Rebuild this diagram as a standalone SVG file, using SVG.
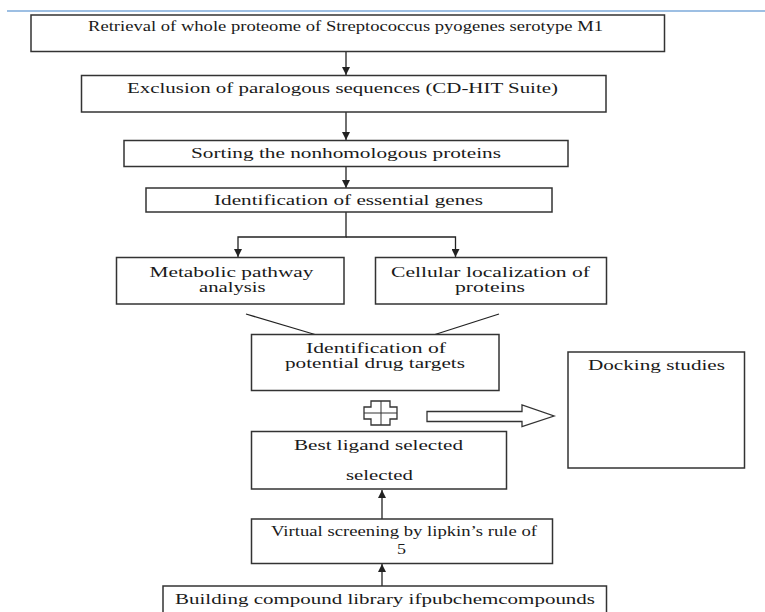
<svg xmlns="http://www.w3.org/2000/svg" width="765" height="612" viewBox="0 0 765 612">
<style>
.box{fill:#fff;stroke:#333;stroke-width:1.5}
.t{font-family:"Liberation Serif","Times New Roman",serif;font-size:15px;fill:#1a1a1a;text-anchor:start}
.c{font-family:"Liberation Serif","Times New Roman",serif;font-size:15px;fill:#1a1a1a}
.ln{stroke:#222;stroke-width:1.3;fill:none}
</style>
<defs>
<marker id="ah" viewBox="0 0 10 10" refX="10" refY="5" markerWidth="8" markerHeight="8" markerUnits="userSpaceOnUse" orient="auto">
<path d="M0,0 L10,5 L0,10 z" fill="#222"/>
</marker>
</defs>
<rect width="765" height="612" fill="#fff"/>
<line x1="7" y1="11" x2="765" y2="11" stroke="#9dbfe3" stroke-width="2"/>

<g id="connectors">
<line class="ln" x1="346" y1="52" x2="346" y2="75" marker-end="url(#ah)"/>
<line class="ln" x1="346" y1="112" x2="346" y2="140" marker-end="url(#ah)"/>
<line class="ln" x1="346" y1="167" x2="346" y2="188" marker-end="url(#ah)"/>
<polyline class="ln" points="346,212 346,237 238,237 238,257" marker-end="url(#ah)"/>
<polyline class="ln" points="346,237 455.5,237 455.5,257" marker-end="url(#ah)"/>
<line class="ln" x1="246" y1="314" x2="315" y2="334.5"/>
<line class="ln" x1="499" y1="314" x2="435" y2="334.5"/>
<line class="ln" x1="382" y1="519" x2="382" y2="490" marker-end="url(#ah)"/>
<line class="ln" x1="382" y1="586" x2="382" y2="564" marker-end="url(#ah)"/>
<polygon points="427,411.5 522,411.5 522,405 554,416 522,426.5 522,421.5 427,421.5" fill="#fff" stroke="#333" stroke-width="1.3"/>
<g id="plus">
<polygon points="371,401 390,401 390,407 397,407 397,419 390,419 390,425 371,425 371,419 364,419 364,407 371,407" fill="#fff" stroke="#333" stroke-width="1.3"/>
<line x1="381" y1="401" x2="381" y2="425" stroke="#333" stroke-width="1"/>
<line x1="364" y1="413" x2="397" y2="413" stroke="#333" stroke-width="1"/>
</g>
</g>

<g id="n1">
<rect class="box" x="31" y="15" width="633.5" height="36.5"/>
<text class="t" x="88" y="31" textLength="515" lengthAdjust="spacingAndGlyphs">Retrieval of whole proteome of Streptococcus pyogenes serotype M1</text>
</g>
<g id="n2">
<rect class="box" x="81.5" y="75.5" width="524.5" height="36.5"/>
<text class="t" x="127" y="93" textLength="431" lengthAdjust="spacingAndGlyphs">Exclusion of paralogous sequences (CD-HIT Suite)</text>
</g>
<g id="n3">
<rect class="box" x="124" y="140.5" width="444" height="26"/>
<text class="t" x="191" y="158" textLength="310" lengthAdjust="spacingAndGlyphs">Sorting the nonhomologous proteins</text>
</g>
<g id="n4">
<rect class="box" x="146" y="188" width="406" height="24"/>
<text class="t" x="214" y="205" textLength="269" lengthAdjust="spacingAndGlyphs">Identification of essential genes</text>
</g>
<g id="n5">
<rect class="box" x="116.5" y="257.5" width="227.5" height="46.5"/>
<text class="t" x="149.5" y="277" textLength="164" lengthAdjust="spacingAndGlyphs">Metabolic pathway</text>
<text class="t" x="199" y="292" textLength="66.5" lengthAdjust="spacingAndGlyphs">analysis</text>
</g>
<g id="n6">
<rect class="box" x="375.5" y="257.5" width="231" height="46.5"/>
<text class="t" x="391" y="277" textLength="199" lengthAdjust="spacingAndGlyphs">Cellular localization of</text>
<text class="t" x="455" y="292" textLength="70" lengthAdjust="spacingAndGlyphs">proteins</text>
</g>
<g id="n7">
<rect class="box" x="251.5" y="334.5" width="247.5" height="56"/>
<text class="t" x="306" y="353" textLength="140" lengthAdjust="spacingAndGlyphs">Identification of</text>
<text class="t" x="285" y="368" textLength="180" lengthAdjust="spacingAndGlyphs">potential drug targets</text>
</g>
<g id="n8">
<rect class="box" x="568" y="352" width="176.5" height="116"/>
<text class="t" x="588" y="370" textLength="137" lengthAdjust="spacingAndGlyphs">Docking studies</text>
</g>
<g id="n9">
<rect class="box" x="251.5" y="431.5" width="255" height="57.5"/>
<text class="t" x="294" y="449.5" textLength="169" lengthAdjust="spacingAndGlyphs">Best ligand selected</text>
<text class="t" x="346" y="480" textLength="67" lengthAdjust="spacingAndGlyphs">selected</text>
</g>
<g id="n10">
<rect class="box" x="251.5" y="519" width="301" height="44.5"/>
<text class="t" x="271" y="536" textLength="266" lengthAdjust="spacingAndGlyphs">Virtual screening by lipkin’s rule of</text>
<text class="t" x="397" y="553.5" textLength="9" lengthAdjust="spacingAndGlyphs">5</text>
</g>
<g id="n11">
<rect class="box" x="163" y="586" width="443.5" height="40"/>
<text class="t" x="175" y="603.5" textLength="420" lengthAdjust="spacingAndGlyphs">Building compound library ifpubchemcompounds</text>
</g>
</svg>
